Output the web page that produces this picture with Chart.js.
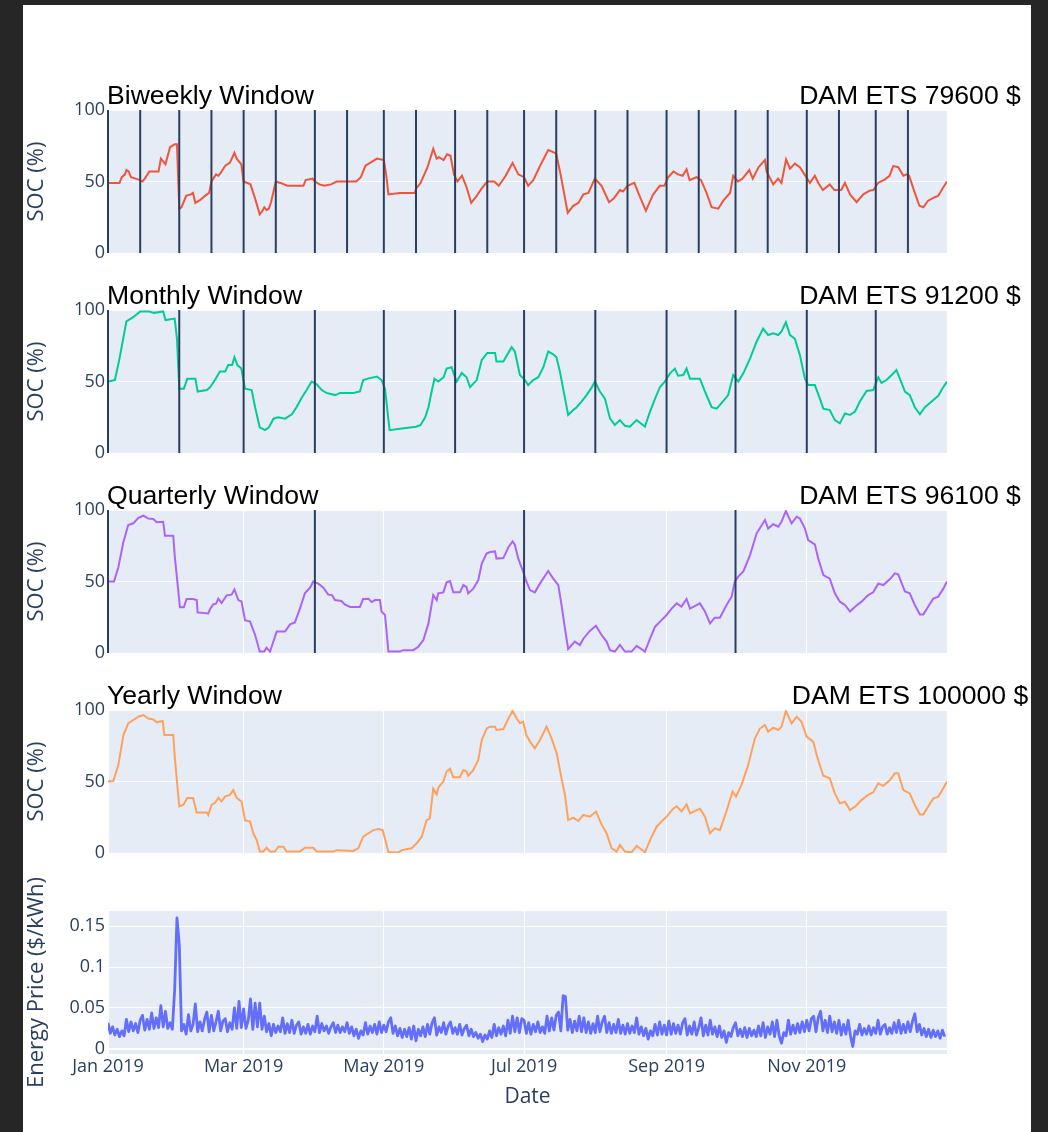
<!DOCTYPE html>
<html>
<head>
<meta charset="utf-8">
<title>SOC by window</title>
<script src="https://cdn.jsdelivr.net/npm/chart.js@4.4.1/dist/chart.umd.min.js"></script>
<style>
    html, body { margin: 0; padding: 0; background: #262626; overflow: hidden; }
    body { width: 1048px; height: 1132px; position: relative; }
    #sheet { position: absolute; left: 23px; top: 5px; width: 1008px; height: 1127px; background: #ffffff; }
    canvas.panel { position: absolute; left: 0; }
</style>
</head>
<body>
<div id="sheet"></div>
<canvas id="biweeklyChart" class="panel" width="1048" height="197" style="top:70px"></canvas>
<canvas id="monthlyChart" class="panel" width="1048" height="197" style="top:270px"></canvas>
<canvas id="quarterlyChart" class="panel" width="1048" height="197" style="top:470px"></canvas>
<canvas id="yearlyChart" class="panel" width="1048" height="197" style="top:670px"></canvas>
<canvas id="priceChart" class="panel" width="1048" height="261" style="top:871px"></canvas>

<script>
// x values are days since Jan 1 2019
const monthTickDays = [0, 59, 120, 181, 243, 304];
const monthTickLabels = ['Jan 2019', 'Mar 2019', 'May 2019', 'Jul 2019', 'Sep 2019', 'Nov 2019'];

const socTicks = [0, 50, 100];
const socTickLabels = ['0', '50', '100'];
const priceTicks = [0, 0.05, 0.1, 0.15];
const priceTickLabels = ['0', '0.05', '0.1', '0.15'];

// window boundaries (days)
const biweeklyBounds = [0, 14, 31, 45, 59, 73, 90, 104, 120, 134, 151, 165, 181, 195, 212, 226, 243, 257, 273, 287, 304, 318, 334, 348];
const monthlyBounds = [0, 31, 59, 90, 120, 151, 181, 212, 243, 273, 304, 334];
const quarterlyBounds = [0, 90, 181, 273];
const yearlyBounds = [];

// revenue labels
const biweeklyRevenue = 'DAM ETS 79600 $';
const monthlyRevenue = 'DAM ETS 91200 $';
const quarterlyRevenue = 'DAM ETS 96100 $';
const yearlyRevenue = 'DAM ETS 100000 $';

// [day, SOC %]
const biweeklySoc = [
    [0,49],[5,49],[6,53],[7.4,55],[8,58],[9,57],[10,53],[12,52],[14,51],[15,50],[16,52],[18,57],[22,57],[23,66],[25,62],[27,74],[29,76],[30,76],
    [31,31],[32,32],[34,40],[36,41],[37,42],[38,35],[40,37],[41.5,39],[43,41],[44,42],[45,50],[47,55],[48,54],[49,56],[51,61],[53,63],[55,70],[56,66],[58,62],
    [59,50],[62,48],[64,38],[66,27],[67,29],[68,32],[69,30],[70,31],[71,36],[73,50],[75,49],[78,47],[85,47],[86,51],[89,52],[90,50],[92,48],[94,47],[97,48],
    [99.5,50],[108,50],[110,53],[112,61],[114,63],[117,66],[120,65],[121,55],[122,41],[127,42],[133.5,42],[134,45],[136,49],[139,60],[141.5,73],[143,66],
    [144,67],[146,65],[147.5,69],[149,68],[150.5,55],[152,50],[154,54],[156,46],[158,35],[160,39],[162.5,45],[165,50],[168,50],[170,47],[173,54],[176,63],
    [178.5,55],[181,53],[182.8,47],[185,51],[188,61],[191.5,72],[193.7,70.6],[195,69.5],[197,54],[200,28],[202.4,33],[204.6,35],[206.8,41],[209,42],
    [211.8,52],[214.7,47],[218,35.5],[220,38],[222.7,44],[224,43],[226,47],[229,49],[230.7,42],[234,29.5],[237,40.5],[240,47],[242,47],[243.7,53],[246,57],
    [248,55],[250,54],[251.7,58.5],[253,51],[256,53],[258,51],[260.4,42],[262.6,32],[265.5,31],[267.7,36.6],[270.6,42],[272,54],[274,50],[276,52],[279,58],
    [280.5,52],[283,60],[285.8,65],[286.5,57],[289.4,48],[291.5,52],[293,49],[295,65.5],[296.7,59],[298.8,62.5],[301,60],[303,55],[305.4,49],[307.5,54],
    [309,49],[311,44],[314,48],[316,44],[319,44],[320.6,49],[322.8,41],[325.7,35.5],[328.6,41],[331.5,43.7],[333,44],[335,49],[338,51.5],[340,54],[341.6,60.8],
    [343.8,60],[346,54],[347.4,55],[348.5,54],[351,42],[353,33],[354.7,32],[356.8,36.6],[359.7,39],[361.2,40],[363.4,46],[365,50]
];

const monthlySoc = [
    [0,50],[3,51],[5,66],[8,92],[11,95],[14,99],[18,99],[20,98],[24,99],[25,93],[29,94],[30,80],[31,45],[33,45],[34.5,52],[38,52],[39,43],[43,44],
    [44.4,46],[46.5,51],[48.7,57],[51,57],[52.3,61.5],[54,61.5],[55,67],[56.3,61.5],[58,59],[59.6,45],[62.5,44],[64,32],[66,18],[68.3,16],[70,18],[72,24],
    [74,25],[77,24],[80,27],[82,32],[84,38],[86.4,44],[88.6,50],[90.8,48],[93,44],[95,42],[98.8,40.5],[101,42],[106.7,42],[109.6,43],[111,51],[113,52],
    [117,53.4],[119,51],[120.5,45],[122.5,16],[127,17],[134,18.4],[136,19.6],[138,25],[139.4,32],[140.8,43],[142,52],[143.7,50],[146,53],[147.3,59],
    [149.5,60],[150.5,55],[151.7,50],[153.9,56],[156,53],[157.5,46],[160.4,51],[162.6,65],[165,70],[168.4,70],[169,64],[172,64],[175.6,74],[177,71],
    [179.2,54.5],[181.4,51],[182.8,47.5],[185,51],[187.2,53],[189.4,60],[191.5,71],[193.7,69],[195.1,67],[196.6,57],[198,45],[200.2,26.6],[202.4,30],
    [203.9,32],[206,36],[208.2,40.5],[210.4,45.7],[211.8,50],[214,43],[216.2,38],[218.4,24],[220.5,19.6],[222.7,23],[224.9,19],[227,18.4],[230,23],
    [233.6,18.4],[235.8,29],[238,38],[240.1,46],[242.3,50],[244.5,55.7],[246.6,59],[248,54],[250.3,54.5],[251.7,59],[253.2,52],[257.5,52],[259.7,43],
    [262.6,32],[264.8,31],[267,35],[269.8,40.5],[272,54.5],[274.2,50],[276.4,55.7],[279.3,66],[282.2,78],[285,87],[287.2,82.5],[289.4,83.7],[291.6,82.5],
    [293,85],[294.9,91.4],[296.7,82.5],[298.8,80],[301,68.5],[303.2,52],[304.6,47.5],[307.5,47.5],[309.7,38],[311.2,31],[314,30],[316.2,23],[318.4,20.7],
    [320.6,27.7],[322.8,26.6],[325,29],[327.1,36],[330,43.4],[332.9,44],[335.1,53],[336.5,49],[338.7,51],[340.9,54.5],[343,58],[344.5,52],[346.7,43],
    [348.8,40.5],[351,32],[353.2,27],[355.4,32],[358.3,36],[361.2,40],[362.6,44],[365,50]
];

const quarterlySoc = [
    [0,50],[2.6,50],[4.5,60],[6.7,77.6],[8.8,89.5],[11,90.7],[13.2,94.6],[15.4,96],[17.5,94],[19.7,93.7],[21.2,91.4],[24,91.8],[24.8,82],[28.4,82],
    [29,68.5],[31.3,32],[33,32],[34.2,37.8],[37,37.8],[38.6,37],[39,28.4],[43.6,27.7],[44.5,31],[45.8,34],[47,34.5],[48,38],[49.4,35],[51.6,40.3],
    [53.8,40.8],[55,44.5],[56.7,37],[58.1,36],[59.6,23],[61.8,22],[64,12.6],[66,1],[68,1],[69,3.7],[70.5,1],[73.4,15],[77,15],[79.2,20],[81.3,21.4],
    [83.5,31],[85.7,42],[87.9,45.7],[89.3,50],[91.5,48.5],[93.7,45.7],[95.8,40.8],[97.5,40.5],[98.7,37],[101.6,36.4],[103,34],[105.3,32.2],[109.6,32.2],
    [111,37.8],[113.3,38],[114.7,35.6],[116.2,37],[118.3,37],[119,29],[120.5,26.6],[122,1],[127,1],[128.5,2],[132.8,2],[135,4.4],[137.2,9],[139.4,20.7],
    [141.5,40.5],[143,37],[143.7,41.7],[145.9,42.4],[147.3,49.4],[148.8,50.3],[150.2,42.4],[153.1,42.4],[154.6,47.5],[156,46],[156.7,41.7],[158.9,45],
    [161.1,51],[162.6,62.6],[164.7,69.5],[166.2,70.6],[168.4,71],[169,66],[172,66.4],[174.2,74],[176,78],[177,75.7],[178.5,66],[180.6,56.8],[182,50],
    [183.6,44],[185.7,42.4],[187.9,48.5],[191.5,57.3],[193.7,52],[195.9,47.5],[197.3,33.6],[198.8,17],[200.2,2.8],[203.1,8],[205.3,5.6],[206.8,10],
    [209.6,15.4],[212.3,19],[214.7,12.6],[216.9,8],[218.4,2],[220.5,1],[222.7,5.6],[224.9,1],[227.8,1],[230,5],[233.6,1],[235.8,10],[238,18.4],[240.8,23],
    [243,26.6],[245.2,31],[247.4,34.7],[249.5,32.4],[251.7,37.8],[253.2,31],[257.5,34.7],[259.7,29],[261.9,20.7],[264,24.7],[266.2,24.7],[269.1,33.6],
    [271.3,39.4],[272.7,50],[274.2,53.4],[276.4,57],[279.3,68.5],[282.2,83.7],[285.8,93],[287.2,87],[289.4,90],[291.6,88.3],[293,91.8],[294.9,99.3],
    [297.4,90.7],[299.6,95.3],[301,94],[303.2,87],[304.6,79],[307.5,76],[309,66],[311.2,54.5],[314,52],[316.2,41.7],[318.4,35.9],[320.6,33.6],[322.8,29],
    [325,32.4],[327.8,35.9],[330.7,40.5],[332.9,42.4],[335.1,48.5],[337.3,47.5],[340.2,51.7],[342.3,55.7],[343.8,55],[346.7,43],[348.8,41.7],[351,33.6],
    [353.2,27],[354.7,27],[356.8,32.4],[359,38],[361.2,39.4],[363.4,45],[365,50]
];

const yearlySoc = [
    [0,50],[2.3,50.3],[4.5,61.5],[6.7,82.5],[8.8,90.7],[11,93],[13.2,95.3],[15.4,96.5],[17.5,94],[19.7,93.4],[21.2,91.4],[23.8,92.3],[24.5,82.5],
    [28.4,82.5],[29.1,66],[31,32.6],[32.8,33.8],[34.5,38.5],[37,38.5],[38.6,28.4],[43,28.4],[43.6,26.6],[45.1,33.8],[46.5,35],[48,38.5],[49.4,36],
    [50.9,39.4],[53,40.6],[54.5,44],[56,38.5],[58.1,36],[59.6,23],[61.8,22],[63.2,13.8],[64.7,9],[66.1,1],[67.5,1],[69,3.7],[70.5,1],[72.6,1],[74.1,4.4],
    [76.3,4.4],[77.7,1],[83.5,1],[85.7,3.7],[89.3,3.7],[90.8,1],[98,1],[99.5,2],[106.7,1.4],[108.9,3.3],[111,11.4],[113.3,13.8],[115.4,16],[117.7,16.8],
    [119.5,16],[120.5,10],[122,0.5],[126.3,0.5],[127.8,2],[132.1,3.3],[134.3,6.8],[136.5,11.4],[138.6,23],[140,24],[141.5,45],[143,41],[143.7,45.7],
    [145.9,50],[147.3,57],[148.8,59],[150.2,53],[153.1,53],[154.6,58],[156,57],[156.7,54],[158.9,58],[161.1,65],[162.6,79],[164.7,87],[166.2,88.3],
    [168.4,88.3],[169,86],[172,86.7],[174.2,94],[176,99.3],[177.8,94],[179.2,90.7],[180.6,91.8],[182,82.5],[183.6,77.9],[185.7,73.2],[187.9,79],
    [190.8,88.3],[193,80],[195.2,69.7],[197.3,52.2],[198.8,40.6],[200.2,23],[202.4,24.7],[204.6,22.4],[206.8,26.6],[209.6,25.4],[212.3,29],[214.7,20],
    [216.9,13.8],[219.1,3.3],[221.3,1],[222.7,5.6],[224.9,1],[227.8,0.5],[230,5],[233.6,0.5],[236.5,11.4],[238.7,18.4],[240.8,22],[243,25.4],[245.9,31],
    [247.4,32.6],[249.5,29],[251.7,34],[253.2,27.7],[257.5,31],[259.7,25.4],[261.9,13.8],[264,17.2],[266.2,16],[269.1,29.4],[271.7,43],[273.2,39.4],
    [275.6,47.6],[278.5,61.5],[281.4,80],[283.6,87],[285.8,89.5],[287.2,84.8],[289.4,87.6],[291.6,86],[293,88.3],[294.9,99.3],[297.4,90.7],[299.6,95.3],
    [301.7,91.8],[303.9,81.4],[306.8,77.9],[308.7,66.2],[311.2,54],[314,52.2],[316.2,41.7],[318.4,34.7],[320.6,35.9],[322.8,30],[325,32.4],[327.8,37],
    [330.7,40.6],[332.9,42.4],[335.1,48.7],[337.3,47],[340.2,51],[342.3,55.7],[343.8,55.7],[346,44],[348.8,41.7],[351,33.6],[353.2,27],[354.7,27],
    [356.8,32.4],[359,38.2],[361.2,39.4],[363.4,45.3],[365,50]
];

// energy price ($/kWh), one value per day starting Jan 1
const priceValues = [
    0.032, 0.019, 0.027, 0.017, 0.024, 0.015, 0.022, 0.016, 0.036, 0.021,
    0.033, 0.022, 0.031, 0.020, 0.035, 0.041, 0.023, 0.036, 0.024, 0.044,
    0.025, 0.038, 0.026, 0.053, 0.027, 0.046, 0.025, 0.032, 0.024, 0.072,
    0.160, 0.128, 0.022, 0.030, 0.018, 0.042, 0.022, 0.030, 0.055, 0.021,
    0.033, 0.022, 0.036, 0.045, 0.021, 0.041, 0.022, 0.033, 0.046, 0.022,
    0.034, 0.037, 0.021, 0.032, 0.024, 0.050, 0.025, 0.058, 0.026, 0.049,
    0.025, 0.035, 0.061, 0.024, 0.056, 0.027, 0.056, 0.024, 0.040, 0.021,
    0.031, 0.016, 0.030, 0.020, 0.028, 0.021, 0.038, 0.019, 0.031, 0.020,
    0.035, 0.019, 0.029, 0.033, 0.018, 0.027, 0.019, 0.030, 0.018, 0.028,
    0.021, 0.040, 0.020, 0.031, 0.022, 0.028, 0.019, 0.027, 0.032, 0.020,
    0.029, 0.020, 0.027, 0.021, 0.032, 0.019, 0.027, 0.016, 0.024, 0.013,
    0.022, 0.017, 0.032, 0.018, 0.028, 0.020, 0.030, 0.018, 0.033, 0.020,
    0.029, 0.021, 0.033, 0.038, 0.019, 0.028, 0.016, 0.025, 0.014, 0.024,
    0.015, 0.026, 0.012, 0.028, 0.010, 0.024, 0.016, 0.027, 0.015, 0.030,
    0.018, 0.032, 0.038, 0.017, 0.027, 0.020, 0.032, 0.018, 0.028, 0.033,
    0.019, 0.026, 0.018, 0.030, 0.017, 0.025, 0.029, 0.016, 0.024, 0.015,
    0.020, 0.013, 0.018, 0.009, 0.017, 0.012, 0.022, 0.014, 0.030, 0.016,
    0.026, 0.018, 0.028, 0.016, 0.035, 0.019, 0.040, 0.021, 0.038, 0.020,
    0.037, 0.035, 0.019, 0.032, 0.018, 0.030, 0.021, 0.033, 0.020, 0.027,
    0.019, 0.040, 0.022, 0.038, 0.023, 0.041, 0.045, 0.022, 0.065, 0.064,
    0.023, 0.036, 0.020, 0.034, 0.022, 0.040, 0.021, 0.038, 0.020, 0.033,
    0.019, 0.031, 0.020, 0.040, 0.021, 0.033, 0.040, 0.020, 0.032, 0.019,
    0.030, 0.020, 0.036, 0.019, 0.029, 0.018, 0.031, 0.019, 0.028, 0.020,
    0.038, 0.018, 0.027, 0.016, 0.025, 0.012, 0.022, 0.016, 0.030, 0.017,
    0.033, 0.018, 0.029, 0.017, 0.034, 0.018, 0.031, 0.019, 0.029, 0.018,
    0.032, 0.037, 0.017, 0.028, 0.018, 0.033, 0.017, 0.026, 0.038, 0.016,
    0.029, 0.017, 0.035, 0.018, 0.027, 0.015, 0.028, 0.014, 0.022, 0.008,
    0.020, 0.015, 0.026, 0.032, 0.016, 0.024, 0.015, 0.026, 0.014, 0.025,
    0.016, 0.023, 0.015, 0.028, 0.016, 0.032, 0.014, 0.027, 0.018, 0.033,
    0.015, 0.035, 0.016, 0.007, 0.020, 0.016, 0.035, 0.018, 0.029, 0.019,
    0.031, 0.020, 0.033, 0.021, 0.035, 0.022, 0.037, 0.040, 0.021, 0.038,
    0.046, 0.022, 0.035, 0.020, 0.040, 0.021, 0.033, 0.019, 0.035, 0.017,
    0.030, 0.018, 0.035, 0.016, 0.003, 0.022, 0.018, 0.030, 0.017, 0.025,
    0.018, 0.028, 0.017, 0.026, 0.019, 0.035, 0.018, 0.027, 0.030, 0.018,
    0.026, 0.019, 0.032, 0.020, 0.035, 0.019, 0.030, 0.020, 0.033, 0.021,
    0.034, 0.043, 0.021, 0.030, 0.017, 0.025, 0.015, 0.024, 0.014, 0.023,
    0.015, 0.022, 0.013, 0.023, 0.015
];

const plotBg = '#E5ECF6';
const axisText = '#2a3f5f';
const tickFont = { family: '"Open Sans", sans-serif', size: 18 };
const axisTitleFont = { family: '"Open Sans", sans-serif', size: 22 };

Chart.defaults.font.family = '"Open Sans", sans-serif';
Chart.defaults.color = axisText;

// Plot background inside the chart area
const plotBackground = {
    id: 'plotBackground',
    beforeDraw(chart) {
        const { ctx, chartArea: a } = chart;
        ctx.save();
        ctx.fillStyle = plotBg;
        ctx.fillRect(a.left, a.top, a.right - a.left, a.bottom - a.top);
        ctx.restore();
    }
};

// Vertical lines at the window boundaries
const windowLines = {
    id: 'windowLines',
    afterDatasetsDraw(chart, args, opts) {
        if (!opts.days || !opts.days.length) return;
        const { ctx, chartArea: a, scales } = chart;
        ctx.save();
        ctx.strokeStyle = '#2a3f5f';
        ctx.lineWidth = 2;
        opts.days.forEach(d => {
            const x = scales.x.getPixelForValue(d);
            ctx.beginPath();
            ctx.moveTo(x, a.top);
            ctx.lineTo(x, a.bottom);
            ctx.stroke();
        });
        ctx.restore();
    }
};

// Panel name on the left, revenue on the right
const panelTitles = {
    id: 'panelTitles',
    afterDraw(chart, args, opts) {
        if (!opts.left) return;
        const { ctx, chartArea: a } = chart;
        ctx.save();
        ctx.font = '26.6px "Liberation Sans", Arial, sans-serif';
        ctx.fillStyle = '#000000';
        ctx.textBaseline = 'alphabetic';
        ctx.textAlign = 'left';
        ctx.fillText(opts.left, a.left - 1, a.top - 6);
        ctx.textAlign = 'center';
        ctx.fillText(opts.right, 910, a.top - 6);
        ctx.restore();
    }
};

function toPoints(pairs) {
    return pairs.map(p => ({ x: p[0], y: p[1] }));
}

function xAxis(isBottom) {
    return {
        type: 'linear',
        min: 0,
        max: 365,
        afterBuildTicks: s => { s.ticks = monthTickDays.map(v => ({ value: v })); },
        afterFit: s => { s.height = isBottom ? 78 : 14; },
        grid: { color: '#ffffff', lineWidth: 1, drawTicks: false },
        border: { display: false },
        ticks: {
            display: isBottom,
            autoSkip: false,
            maxRotation: 0,
            padding: 2,
            color: axisText,
            font: tickFont,
            callback: (v, i) => monthTickLabels[i]
        },
        title: {
            display: isBottom,
            text: 'Date',
            color: axisText,
            font: { family: '"Open Sans", sans-serif', size: 21 },
            padding: { top: 0, bottom: 22 }
        }
    };
}

function yAxis(min, max, ticks, labels, titleText) {
    return {
        min: min,
        max: max,
        afterBuildTicks: s => { s.ticks = ticks.map(v => ({ value: v })); },
        afterFit: s => { s.width = 108; },
        grid: {
            color: '#ffffff',
            drawTicks: false,
            lineWidth: c => (c.tick && c.tick.value === 0 && min < 0 ? 2 : 1)
        },
        border: { display: false },
        ticks: {
            padding: 3,
            color: axisText,
            font: tickFont,
            callback: (v, i) => labels[i]
        },
        title: {
            display: true,
            text: titleText,
            color: axisText,
            font: axisTitleFont,
            padding: { top: 24, bottom: 0 }
        }
    };
}

function makeSocPanel(canvasId, pairs, color, bounds, leftTitle, rightTitle) {
    const ctx = document.getElementById(canvasId).getContext('2d');
    return new Chart(ctx, {
        type: 'line',
        data: {
            datasets: [{
                data: toPoints(pairs),
                borderColor: color,
                borderWidth: 2,
                pointRadius: 0,
                tension: 0,
                fill: false
            }]
        },
        options: {
            responsive: false,
            animation: false,
            events: [],
            layout: { padding: { top: 40, right: 101, bottom: 0, left: 0 } },
            scales: {
                x: xAxis(false),
                y: yAxis(0, 100, socTicks, socTickLabels, 'SOC (%)')
            },
            plugins: {
                legend: { display: false },
                tooltip: { enabled: false },
                windowLines: { days: bounds },
                panelTitles: { left: leftTitle, right: rightTitle }
            }
        },
        plugins: [plotBackground, windowLines, panelTitles]
    });
}

makeSocPanel('biweeklyChart', biweeklySoc, '#EF553B', biweeklyBounds, 'Biweekly Window', biweeklyRevenue);
makeSocPanel('monthlyChart', monthlySoc, '#00CC96', monthlyBounds, 'Monthly Window', monthlyRevenue);
makeSocPanel('quarterlyChart', quarterlySoc, '#AB63FA', quarterlyBounds, 'Quarterly Window', quarterlyRevenue);
makeSocPanel('yearlyChart', yearlySoc, '#FFA15A', yearlyBounds, 'Yearly Window', yearlyRevenue);

// Energy price panel
new Chart(document.getElementById('priceChart').getContext('2d'), {
    type: 'line',
    data: {
        datasets: [{
            data: priceValues.map((v, i) => ({ x: i, y: v })),
            borderColor: '#636EFA',
            borderWidth: 2.8,
            borderJoinStyle: 'round',
            pointRadius: 0,
            tension: 0,
            fill: false
        }]
    },
    options: {
        responsive: false,
        animation: false,
        events: [],
        layout: { padding: { top: 40, right: 101, bottom: 0, left: 0 } },
        scales: {
            x: xAxis(true),
            y: yAxis(-0.0062, 0.1685, priceTicks, priceTickLabels, 'Energy Price ($/kWh)')
        },
        plugins: {
            legend: { display: false },
            tooltip: { enabled: false }
        }
    },
    plugins: [plotBackground]
});
</script>
</body>
</html>
